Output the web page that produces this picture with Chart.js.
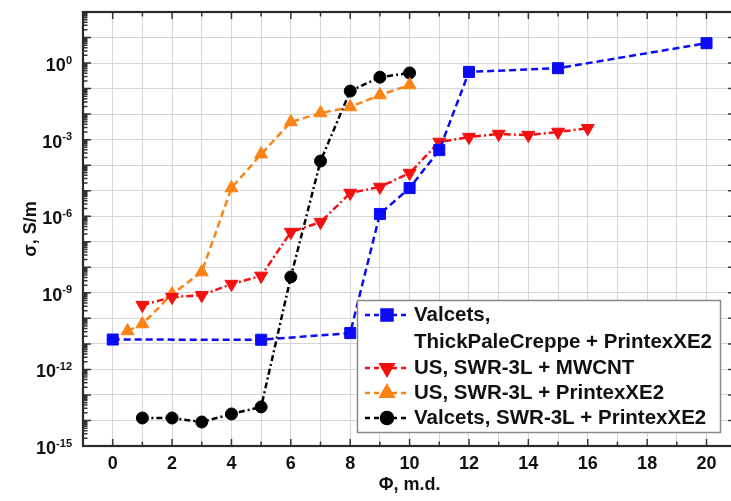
<!DOCTYPE html>
<html><head><meta charset="utf-8">
<script src="https://cdn.jsdelivr.net/npm/chart.js@4.4.0/dist/chart.umd.min.js"></script>
<style>
html,body{margin:0;padding:0;overflow:hidden;background:#fff;width:731px;height:501px}
#wrap{position:absolute;left:0;top:0;width:745px;height:501px}
</style></head>
<body><div id="wrap"><canvas id="c" width="745" height="501"></canvas></div>
<script>
// ---- data ----
const seriesNames = [
  ['Valcets,', 'ThickPaleCreppe + PrintexXE2'],
  ['US, SWR-3L + MWCNT'],
  ['US, SWR-3L + PrintexXE2'],
  ['Valcets, SWR-3L + PrintexXE2']
];
const blueX = [0, 5, 8, 9, 10, 11, 12, 15, 20];
const blueY = [1.48e-11, 1.45e-11, 2.65e-11, 1.23e-6, 1.27e-5, 3.9e-4, 0.45, 0.63, 6.0];
const redX = [1, 2, 3, 4, 5, 6, 7, 8, 9, 10, 11, 12, 13, 14, 15, 16];
const redY = [3.3e-10, 6.8e-10, 8.1e-10, 2.2e-9, 4.6e-9, 2.4e-7, 5.9e-7, 8.1e-6, 1.4e-5, 4.9e-5, 8.1e-4, 1.26e-3, 1.66e-3, 1.51e-3, 2.0e-3, 2.8e-3];
const orangeX = [0.5, 1, 2, 3, 4, 5, 6, 7, 8, 9, 10];
const orangeY = [3.2e-11, 6.0e-11, 8.9e-10, 6.5e-9, 1.27e-5, 2.7e-4, 4.9e-3, 0.011, 0.019, 0.056, 0.138];
const blackX = [1, 2, 3, 4, 5, 6, 7, 8, 9, 10];
const blackY = [1.25e-14, 1.25e-14, 8.7e-15, 1.8e-14, 3.4e-14, 4.2e-9, 1.45e-4, 0.080, 0.28, 0.41];

const xTickLabels = {0:'0',2:'2',4:'4',6:'6',8:'8',10:'10',12:'12',14:'14',16:'16',18:'18',20:'20'};
const yTickValues = [1e-15,1e-14,1e-13,1e-12,1e-11,1e-10,1e-9,1e-8,1e-7,1e-6,1e-5,1e-4,1e-3,1e-2,1e-1,1e0,1e1,1e2];
const yTickBase = '10';
const yTickExponents = ['-15','','','-12','','','-9','','','-6','','','-3','','','0','',''];

const FONT = "'Liberation Sans', Arial, sans-serif";
const pts = (xs, ys) => xs.map((x, i) => ({x: x, y: ys[i]}));

const styles = [
  {color:'#0b0bf5', dash:[7,4], style:'rect', radius:7.8, rot:0},
  {color:'#f21010', dash:[7,3,2,3], style:'triangle', radius:7.5, rot:180},
  {color:'#fb8214', dash:[7,4], style:'triangle', radius:7.5, rot:0},
  {color:'#000000', dash:[6,3,2,3], style:'circle', radius:6, rot:0}
];
const dataSets = [pts(blueX, blueY), pts(redX, redY), pts(orangeX, orangeY), pts(blackX, blackY)];

const frameTicks = {
  id: 'frameTicks',
  afterDatasetsDraw(chart) {
    const {ctx, chartArea: a, scales: {x, y}} = chart;
    ctx.save();
    ctx.strokeStyle = '#333';
    ctx.lineWidth = 1.5;
    ctx.beginPath();
    for (let v = -1; v <= 21; v++) {
      const px = x.getPixelForValue(v);
      const len = (v % 2 === 0) ? 7 : 4.5;
      ctx.moveTo(px, a.bottom); ctx.lineTo(px, a.bottom - len);
      ctx.moveTo(px, a.top); ctx.lineTo(px, a.top + len);
    }
    for (let d = -15; d <= 2; d++) {
      const py = y.getPixelForValue(Math.pow(10, d));
      ctx.moveTo(a.left, py); ctx.lineTo(a.left + 8, py);
      ctx.moveTo(a.right, py); ctx.lineTo(a.right - 8, py);
      if (d < 2) {
        for (let m = 2; m <= 9; m++) {
          const q = y.getPixelForValue(m * Math.pow(10, d));
          ctx.moveTo(a.left, q); ctx.lineTo(a.left + 4.5, q);
          ctx.moveTo(a.right, q); ctx.lineTo(a.right - 4.5, q);
        }
      }
    }
    ctx.stroke();
    ctx.lineWidth = 2.2;
    ctx.strokeStyle = '#2a2a2a';
    ctx.strokeRect(a.left, a.top, a.right - a.left, a.bottom - a.top);
    // y tick labels: base with raised exponent
    ctx.fillStyle = '#111';
    ctx.textBaseline = 'alphabetic';
    ctx.textAlign = 'left';
    const rightEdge = a.left - 11;
    yTickValues.forEach((v, i) => {
      const e = yTickExponents[i];
      if (!e) return;
      const py = y.getPixelForValue(v);
      ctx.font = 'bold 11px ' + FONT;
      const ew = ctx.measureText(e).width;
      ctx.fillText(e, rightEdge - ew, py + 0.5);
      ctx.font = 'bold 18px ' + FONT;
      const bw = ctx.measureText(yTickBase).width;
      ctx.fillText(yTickBase, rightEdge - ew - bw, py + 8);
    });
    ctx.restore();
  }
};

const boxLegend = {
  id: 'boxLegend',
  afterDraw(chart) {
    const ctx = chart.ctx;
    const L = 357, T = 300, W = 363, H = 132;
    ctx.save();
    ctx.fillStyle = '#fff';
    ctx.fillRect(L, T, W, H);
    ctx.strokeStyle = '#8a8a8a';
    ctx.lineWidth = 1.5;
    ctx.strokeRect(L + 0.5, T + 0.5, W, H);
    const rowY = [315, 368, 393, 418];
    ctx.font = "bold 20.5px " + FONT;
    ctx.textBaseline = 'middle';
    ctx.textAlign = 'left';
    seriesNames.forEach((lines, i) => {
      const s = styles[i];
      const yy = rowY[i];
      ctx.strokeStyle = s.color;
      ctx.lineWidth = 2.5;
      ctx.setLineDash([5, 4]);
      ctx.beginPath(); ctx.moveTo(365, yy); ctx.lineTo(409, yy); ctx.stroke();
      ctx.setLineDash([]);
      ctx.fillStyle = s.color; ctx.strokeStyle = s.color;
      Chart.helpers.drawPoint(ctx, {pointStyle: s.style, radius: s.radius, rotation: s.rot, borderWidth: 1}, 387, yy);
      ctx.fillStyle = '#111';
      lines.forEach((t, k) => ctx.fillText(t, 414, yy + k * 27));
    });
    ctx.restore();
  }
};

new Chart(document.getElementById('c'), {
  type: 'line',
  data: {
    datasets: dataSets.map((d, i) => ({
      label: seriesNames[i].join(' '),
      data: d,
      borderColor: styles[i].color,
      backgroundColor: styles[i].color,
      borderWidth: 2.5,
      borderDash: styles[i].dash,
      pointStyle: styles[i].style,
      pointRadius: styles[i].radius,
      pointRotation: styles[i].rot,
      pointBorderWidth: 1,
      tension: 0,
      fill: false
    }))
  },
  options: {
    responsive: false,
    animation: false,
    layout: {padding: {top: 12, right: 4, left: 0, bottom: 5}},
    plugins: {legend: {display: false}, tooltip: {enabled: false}},
    scales: {
      x: {
        type: 'linear', min: -1, max: 21,
        afterBuildTicks: (s) => { const t = []; for (let v = -1; v <= 21; v++) t.push({value: v}); s.ticks = t; },
        afterFit: (s) => { s.height = 50; },
        ticks: {autoSkip: false, maxRotation: 0, padding: 7, color: '#111',
          font: {family: FONT, size: 18, weight: 'bold'},
          callback: (v) => (xTickLabels[v] !== undefined ? xTickLabels[v] : '')},
        grid: {color: '#d6d6d6', lineWidth: 1, drawTicks: false},
        border: {display: false},
        title: {display: true, text: '\u03A6, m.d.', color: '#111', padding: {top: 0, bottom: 0},
          font: {family: FONT, size: 18, weight: 'bold'}}
      },
      y: {
        type: 'logarithmic', min: 1e-15, max: 1e2,
        afterBuildTicks: (s) => { s.ticks = yTickValues.map(v => ({value: v})); },
        afterFit: (s) => { s.width = 83; },
        ticks: {display: false},
        grid: {color: '#d6d6d6', lineWidth: 1, drawTicks: false},
        border: {display: false},
        title: {display: true, text: '\u03C3, S/m', color: '#111', padding: {top: 20, bottom: 0},
          font: {family: FONT, size: 18, weight: 'bold'}}
      }
    }
  },
  plugins: [frameTicks, boxLegend]
});
</script>
</body></html>
